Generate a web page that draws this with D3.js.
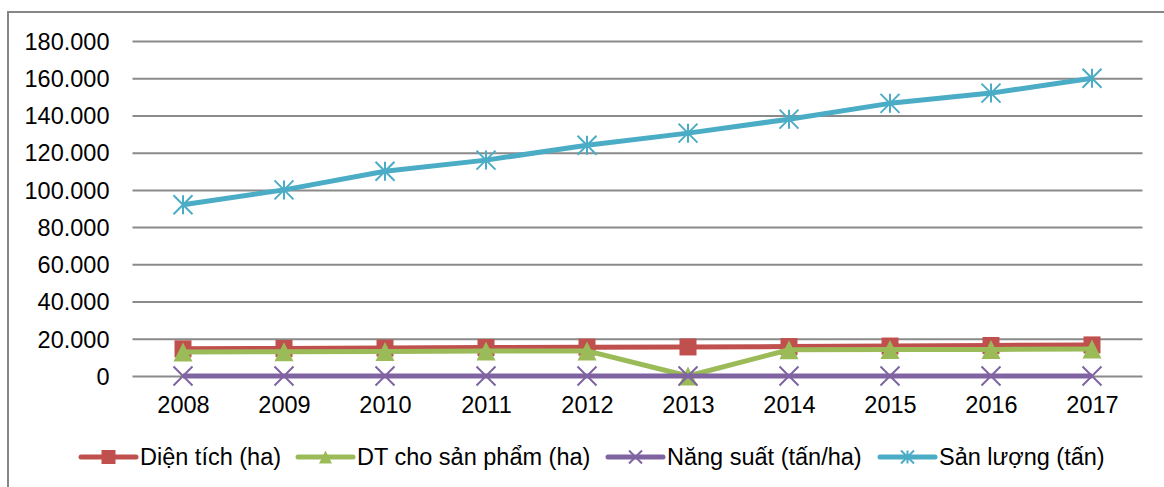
<!DOCTYPE html>
<html>
<head>
<meta charset="utf-8">
<script src="https://cdn.jsdelivr.net/npm/d3@7"></script>
<style>
  html, body { margin: 0; padding: 0; background: #fff; }
  svg { display: block; font-family: "Liberation Sans", Arial, sans-serif; }
</style>
</head>
<body>
<svg id="chart" width="1164" height="487"></svg>
<script>
const years = ["2008","2009","2010","2011","2012","2013","2014","2015","2016","2017"];
const dienTich = [14600, 14800, 15000, 15300, 15500, 15600, 15800, 16100, 16400, 16700];
const dtSanPham = [12900, 13000, 13200, 13400, 13500, 0, 14100, 14200, 14300, 14500];
const nangSuat = [0, 0, 0, 0, 0, 0, 0, 0, 0, 0];
const sanLuong = [92000, 100000, 110000, 116000, 124000, 130500, 138000, 146500, 152000, 160000];
const yTicks = [0, 20000, 40000, 60000, 80000, 100000, 120000, 140000, 160000, 180000];
const seriesNames = ["Diện tích (ha)", "DT cho sản phẩm (ha)", "Năng suất (tấn/ha)", "Sản lượng (tấn)"];
const seriesColors = ["#C0504D", "#9BBB59", "#8064A2", "#4BACC6"];
const seriesMarkers = ["square", "triangle", "x", "star"];

const series = [dienTich, dtSanPham, nangSuat, sanLuong].map((v, i) => ({
  name: seriesNames[i], values: v, color: seriesColors[i], marker: seriesMarkers[i]
}));

const svg = d3.select("#chart");
const plotLeft = 132.5, plotRight = 1142.5, plotTop = 41, plotBottom = 376;

// outer border (chart area) - left and top visible
svg.append("path")
  .attr("d", "M8,500 L8,12 L1170,12")
  .attr("fill", "none").attr("stroke", "#868686").attr("stroke-width", 2);

const x = d3.scalePoint().domain(years).range([plotLeft, plotRight]).padding(0.5);
const y = d3.scaleLinear().domain([0, 180000]).range([plotBottom, plotTop]);

const loc = d3.formatLocale({ decimal: ",", thousands: ".", grouping: [3], currency: ["", ""] });
const fmt = loc.format(",d");

// y axis with gridlines
const yAxis = svg.append("g").attr("transform", `translate(${plotLeft},0)`)
  .call(d3.axisLeft(y).tickValues(yTicks).tickFormat(fmt)
    .tickSize(-(plotRight - plotLeft)).tickPadding(23));
yAxis.select(".domain").remove();
yAxis.selectAll(".tick line").attr("stroke", "#8a8a8a").attr("stroke-width", 2);
yAxis.selectAll(".tick text").attr("fill", "#000").attr("font-size", "23.5px")
  .attr("dy", "0.35em").attr("font-family", "'Liberation Sans', Arial, sans-serif");

// x axis labels
const xAxis = svg.append("g").attr("transform", `translate(0,${plotBottom})`)
  .call(d3.axisBottom(x).tickSize(0).tickPadding(0));
xAxis.select(".domain").remove();
xAxis.selectAll(".tick text").attr("fill", "#000").attr("font-size", "23.5px")
  .attr("dy", 0).attr("y", 37).attr("font-family", "'Liberation Sans', Arial, sans-serif");

function drawMarker(g, type, color, size) {
  const h = size / 2;
  if (type === "square") {
    g.append("rect").attr("x", -h).attr("y", -h).attr("width", size).attr("height", size)
      .attr("fill", color);
  } else if (type === "triangle") {
    g.append("path").attr("d", `M0,${-h} L${h},${h} L${-h},${h} Z`).attr("fill", color);
  } else if (type === "x") {
    g.append("path").attr("d", `M${-h},${-h} L${h},${h} M${-h},${h} L${h},${-h}`)
      .attr("stroke", color).attr("stroke-width", 2).attr("fill", "none");
  } else if (type === "star") {
    g.append("path").attr("d", `M${-h},${-h} L${h},${h} M${-h},${h} L${h},${-h} M0,${-h} L0,${h}`)
      .attr("stroke", color).attr("stroke-width", 2).attr("fill", "none");
  }
}

const line = d3.line().x((d, i) => x(years[i])).y(d => y(d));
const markerSize = { square: 17, triangle: 19, x: 19, star: 19 };

series.forEach(s => {
  const g = svg.append("g");
  g.append("path").datum(s.values).attr("d", line)
    .attr("fill", "none").attr("stroke", s.color).attr("stroke-width", 5)
    .attr("stroke-linejoin", "round");
  s.values.forEach((v, i) => {
    const mg = g.append("g").attr("transform", `translate(${x(years[i])},${y(v)})`);
    drawMarker(mg, s.marker, s.color, markerSize[s.marker]);
  });
});

// legend
const legendY = 457;
const legendX = [81, 298, 608, 880];
series.forEach((s, i) => {
  const g = svg.append("g").attr("transform", `translate(${legendX[i]},${legendY})`);
  g.append("line").attr("x1", 0).attr("x2", 55).attr("y1", 0).attr("y2", 0)
    .attr("stroke", s.color).attr("stroke-width", 5).attr("stroke-linecap", "round");
  const mg = g.append("g").attr("transform", "translate(27.5,0)");
  drawMarker(mg, s.marker, s.color, s.marker === "square" ? 14 : 13);
  g.append("text").attr("x", 59).attr("y", 8).attr("font-size", "23.5px").attr("fill", "#000")
    .text(s.name);
});
</script>
</body>
</html>
